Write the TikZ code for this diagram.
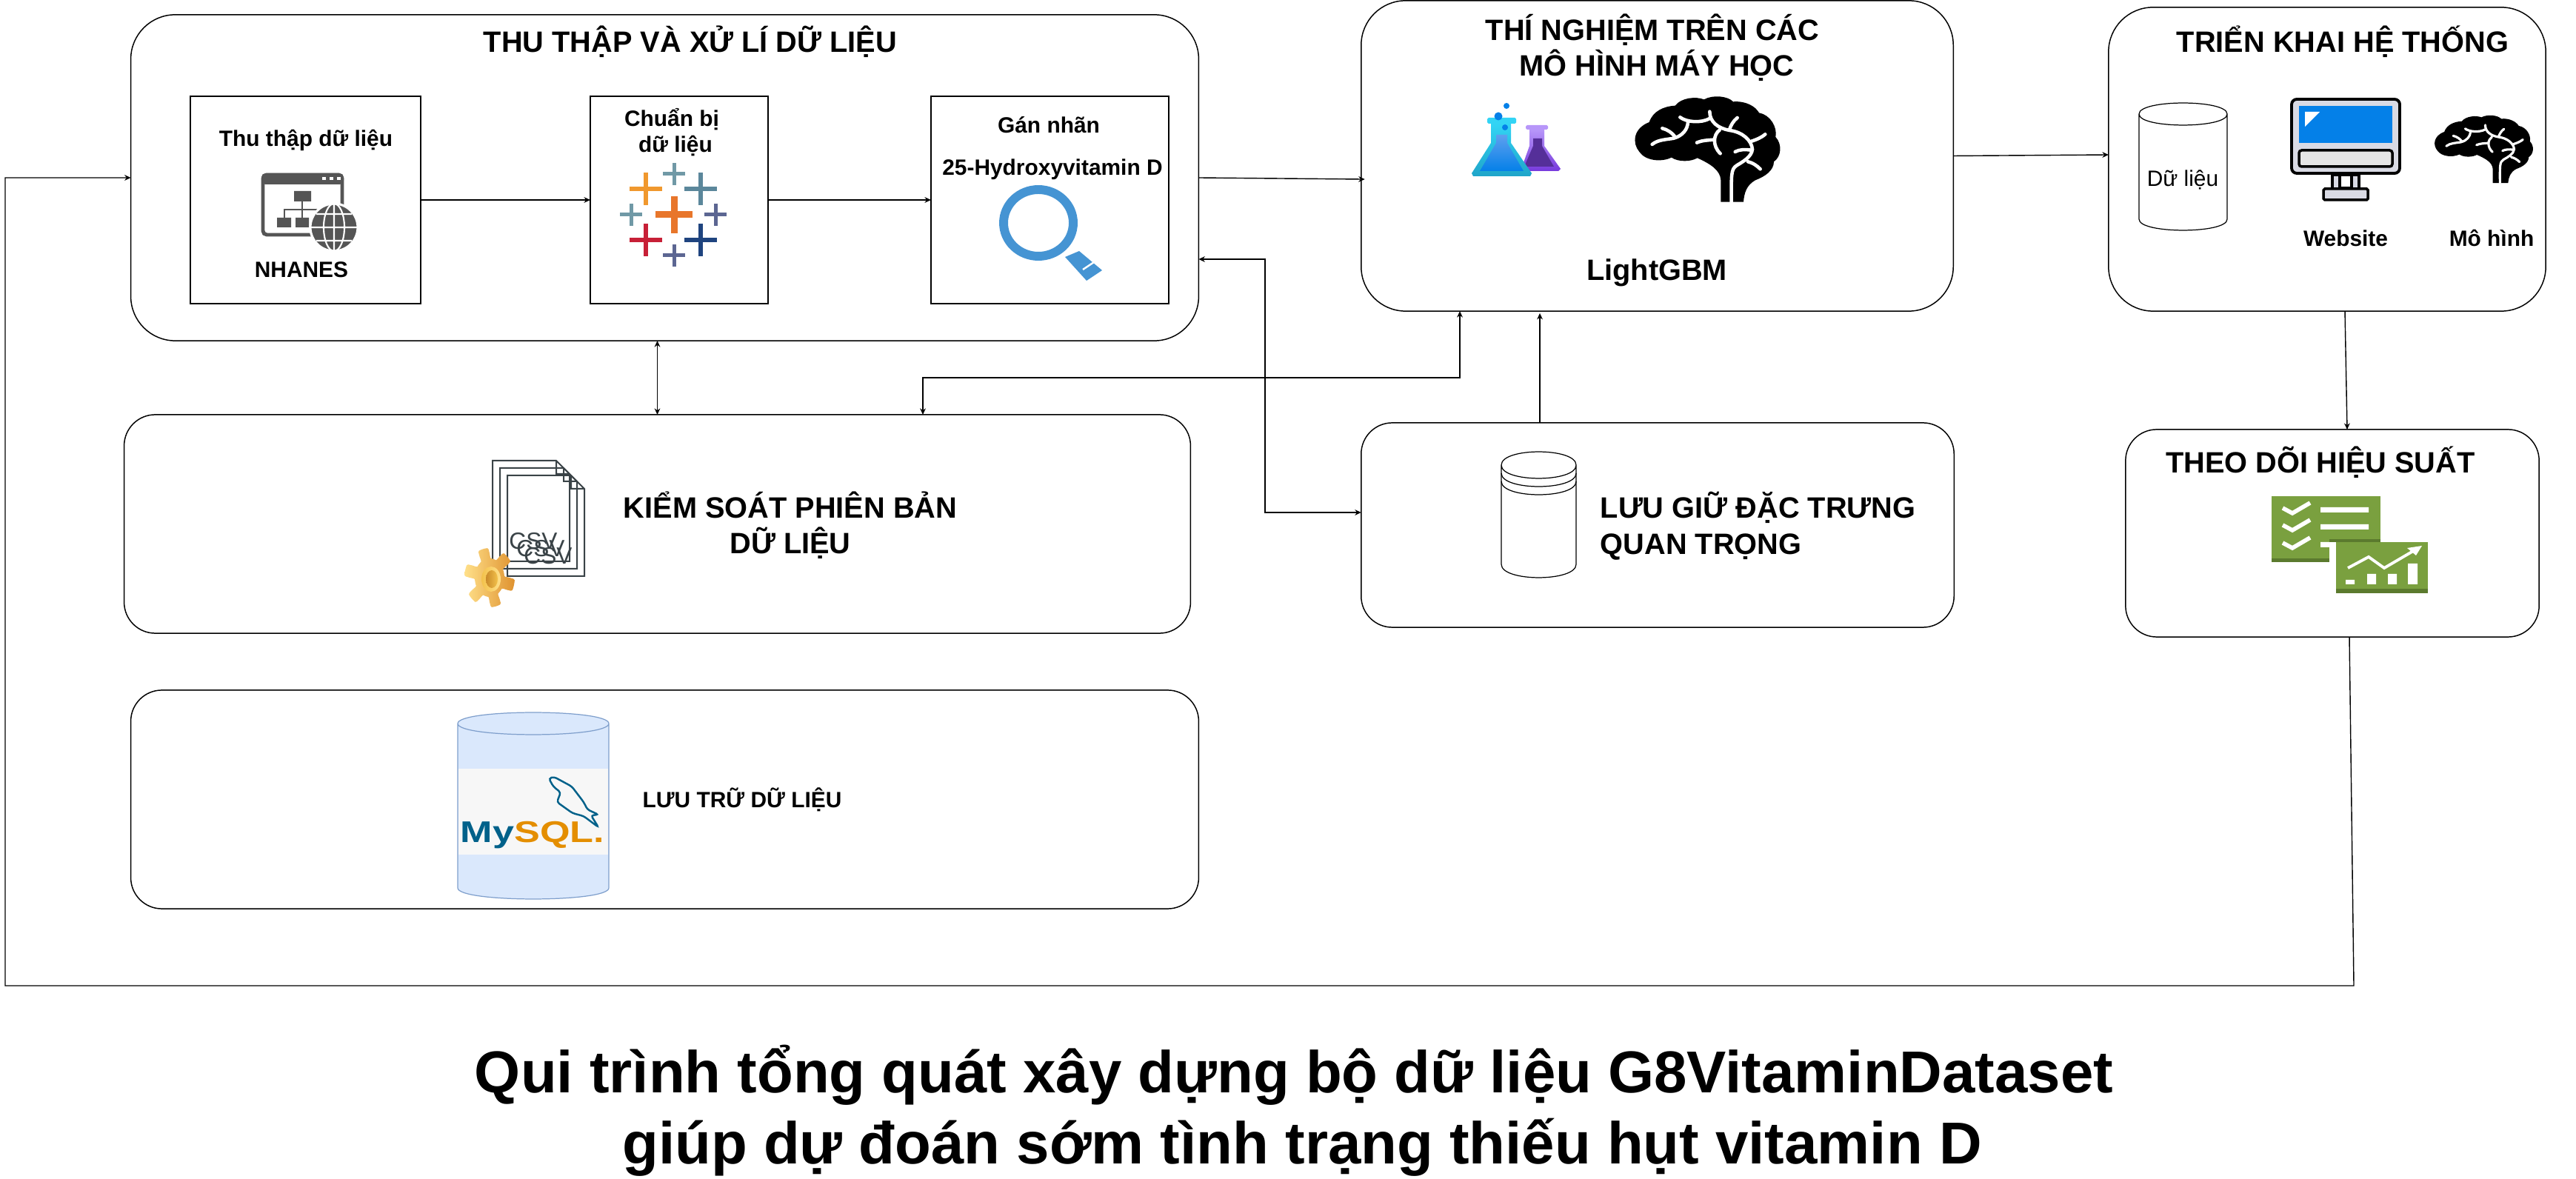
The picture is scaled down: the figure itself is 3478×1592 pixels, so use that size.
\documentclass[tikz,border=0pt]{standalone}
\usepackage{fontspec}
\setmainfont{Liberation Sans}
\usetikzlibrary{arrows.meta}
\definecolor{winGray}{HTML}{555555}
\definecolor{magBlue}{HTML}{4594D3}
\definecolor{docGray}{HTML}{3A4347}
\definecolor{drumBlue}{HTML}{DAE8FC}
\definecolor{drumEdge}{HTML}{7F9FCC}
\definecolor{mysqlBlue}{HTML}{00618A}
\definecolor{mysqlOrange}{HTML}{E48E00}
\definecolor{leafGreen}{HTML}{7AA03F}
\definecolor{leafDark}{HTML}{5B7A2E}
\definecolor{crossOrange}{HTML}{E8762B}
\definecolor{crossAmber}{HTML}{F0982E}
\definecolor{crossTeal}{HTML}{5B879B}
\definecolor{crossRed}{HTML}{C72037}
\definecolor{crossNavy}{HTML}{1F447F}
\definecolor{crossMist}{HTML}{7099A6}
\definecolor{crossSlate}{HTML}{5C6692}
\definecolor{screenBlue}{HTML}{0480E8}
\definecolor{bodyGray}{HTML}{D9DAE4}
\definecolor{flaskSky}{HTML}{32D4F5}
\definecolor{flaskSea}{HTML}{1FA5C9}
\definecolor{flaskGlow}{HTML}{5EA0EF}
\definecolor{flaskLilac}{HTML}{B796F9}
\definecolor{flaskViolet}{HTML}{773ADC}
\definecolor{flaskPlum}{HTML}{552F99}
\definecolor{gearLight}{HTML}{FFE08A}
\definecolor{gearGold}{HTML}{F3C14B}
\definecolor{gearDark}{HTML}{DF922F}
\definecolor{gearDeep}{HTML}{C98A2A}
\tikzstyle{arrow} = [line width=.4pt,-{Stealth[length=2.4pt,width=2.2pt]}]
\tikzstyle{duplex} = [line width=.4pt,{Stealth[length=2.4pt,width=2.2pt]}-{Stealth[length=2.4pt,width=2.2pt]}]
\tikzstyle{panel} = [draw,line width=.42pt,rounded corners=.6cm,inner sep=0,outer sep=0]
\tikzstyle{softpanel} = [panel,rounded corners=.42cm]
\tikzstyle{card} = [draw,line width=.42pt,inner sep=0,outer sep=0]
\tikzstyle{head} = [anchor=base,inner sep=0,font=\bfseries\fontsize{11.3}{13}\selectfont]
\tikzstyle{caption} = [anchor=base,inner sep=0,font=\bfseries\fontsize{8.5}{10}\selectfont]
\tikzstyle{banner} = [anchor=base,inner sep=0,font=\bfseries\fontsize{22.7}{26}\selectfont]
% x1, x2, top, bottom, half height of the lid
\newcommand{\drum}[6][]{
  \draw[line width=.35pt,#1] (#2,{#4+#6}) -- (#2,{#5-#6})
    .. controls (#2,{#5-#6+1.33*#6}) and (#3,{#5-#6+1.33*#6}) .. (#3,{#5-#6})
    -- (#3,{#4+#6})
    .. controls (#3,{#4+#6-1.33*#6}) and (#2,{#4+#6-1.33*#6}) .. (#2,{#4+#6})
    .. controls (#2,{#4+#6+1.33*#6}) and (#3,{#4+#6+1.33*#6}) .. (#3,{#4+#6});
}
\tikzset{
  brain/.pic={
    \fill (430,488) -- (430,400) .. controls (428,360) and (390,335) .. (335,310)
      .. controls (310,325) and (260,328) .. (230,308) .. controls (190,328) and (125,322) .. (100,285)
      .. controls (70,250) and (75,190) .. (140,165) .. controls (155,120) and (200,100) .. (245,98)
      .. controls (270,65) and (330,60) .. (362,73) .. controls (400,52) and (460,60) .. (480,82)
      .. controls (530,78) and (570,100) .. (585,127) .. controls (630,135) and (660,185) .. (652,225)
      .. controls (680,255) and (675,305) .. (645,325) .. controls (645,360) and (610,385) .. (570,400)
      .. controls (535,420) and (525,450) .. (522,488) -- cycle;
    \draw[white,line width=#1,line cap=round]
      (152,255) .. controls (175,235) and (215,235) .. (240,230) .. controls (275,220) and (295,195) .. (297,165)
      (193,190) .. controls (215,195) and (235,210) .. (245,225)
      (265,145) .. controls (290,165) and (350,170) .. (385,150)
      (385,122) .. controls (385,165) and (420,190) .. (465,198) .. controls (520,205) and (555,240) .. (558,275)
        .. controls (555,305) and (520,325) .. (495,340) .. controls (470,355) and (473,380) .. (473,488)
      (497,147) .. controls (480,160) and (470,180) .. (465,195)
      (425,197) .. controls (400,215) and (395,260) .. (428,292)
      (333,248) .. controls (355,238) and (380,238) .. (402,236)
      (610,214) .. controls (590,230) and (575,235) .. (555,242)
      (488,285) .. controls (505,275) and (530,275) .. (552,278)
      (540,325) .. controls (560,330) and (575,340) .. (590,355);
  }
}
\begin{document}
\begin{tikzpicture}[x=.01cm,y=-.01cm]
  \useasboundingbox (0,0) rectangle (3478,1592);
  % boxes
  \node[panel,minimum width=14.41cm,minimum height=4.40cm] (collect) at (897.5,240) {};
  \node[card,minimum width=3.11cm,minimum height=2.80cm] (gather) at (412.5,270) {};
  \node[card,minimum width=2.40cm,minimum height=2.80cm] (prep) at (917,270) {};
  \node[card,minimum width=3.21cm,minimum height=2.80cm] (tagger) at (1417.5,270) {};
  \node[panel,minimum width=7.99cm,minimum height=4.19cm] (exp) at (2237.5,210.5) {};
  \node[panel,minimum width=5.90cm,minimum height=4.10cm] (deploy) at (3142,215) {};
  \node[softpanel,minimum width=14.39cm,minimum height=2.95cm] (version) at (887.5,707.5) {};
  \node[softpanel,minimum width=8.00cm,minimum height=2.76cm] (feature) at (2238,709) {};
  \node[softpanel,minimum width=5.58cm,minimum height=2.80cm] (watch) at (3149,720) {};
  \node[softpanel,minimum width=14.41cm,minimum height=2.95cm] (store) at (897.5,1079.5) {};
  % titles
  \node[head] (collecttitle) at (932,71) {THU THẬP VÀ XỬ LÍ DỮ LIỆU};
  \node[head] (exptitlea) at (2231,55) {THÍ NGHIỆM TRÊN CÁC};
  \node[head] (exptitleb) at (2237,103) {MÔ HÌNH MÁY HỌC};
  \node[head] (lightgbm) at (2237,379) {LightGBM};
  \node[head] (deploytitle) at (3163,71) {TRIỂN KHAI HỆ THỐNG};
  \node[head] (versiona) at (1067,700) {KIỂM SOÁT PHIÊN BẢN};
  \node[head] (versionb) at (1067,748) {DỮ LIỆU};
  \node[head,anchor=base west] (featurea) at (2160,700) {LƯU GIỮ ĐẶC TRƯNG};
  \node[head,anchor=base west] (featureb) at (2160,749) {QUAN TRỌNG};
  \node[head] (watchtitle) at (3133,639) {THEO DÕI HIỆU SUẤT};
  \node[caption] (storetitle) at (1002,1091) {LƯU TRỮ DỮ LIỆU};
  \node[caption] (gathertitle) at (413,198) {Thu thập dữ liệu};
  \node[caption] (nhanes) at (407,375) {NHANES};
  \node[caption] (prepa) at (907,171) {Chuẩn bị};
  \node[caption] (prepb) at (912,206) {dữ liệu};
  \node[caption] (tagtitle) at (1416,180) {Gán nhãn};
  \node[caption] (vitamin) at (1421,237) {25-Hydroxyvitamin D};
  \node[caption] (website) at (3167,333) {Website};
  \node[caption] (model) at (3364,333) {Mô hình};
  \node[banner] (bannera) at (1747,1475) {Qui trình tổng quát xây dựng bộ dữ liệu G8VitaminDataset};
  \node[banner] (bannerb) at (1758,1571) {giúp dự đoán sớm tình trạng thiếu hụt vitamin D};
  % window and globe
  \draw[winGray,line width=1.4pt,rounded corners=1.5pt] (355,236) rectangle (462,317);
  \fill[winGray,rounded corners=1.5pt] (353,234) rectangle (464,249);
  \foreach \k in {435,445,455} \fill[white] (\k,239) rectangle ({\k+5},243);
  \fill[winGray] (397,258) rectangle (420,272) (374,294) rectangle (393,307) (399,294) rectangle (417,307);
  \draw[winGray,line width=.6pt] (408,272) -- (408,294) (384,294) -- (384,283) -- (430,283);
  \filldraw[fill=winGray,draw=white,line width=.9pt] (451,307) circle [radius=32];
  \draw[white,line width=.6pt] (451,275) -- (451,339) (419,307) -- (483,307) (427,289) -- (475,289) (427,325) -- (475,325)
    (451,307) ellipse [x radius=14,y radius=32];
  % tableau crosses
  \foreach \cx/\cy/\arm/\thk/\col in {910/290/25/9/crossOrange, 872/255/22/6/crossAmber, 946/255/22/6/crossTeal,
      872/324/22/6/crossRed, 946/324/22/6/crossNavy, 910/235/15/5/crossMist, 910/345/15/5/crossSlate,
      852/290/15/5/crossMist, 966/290/15/5/crossSlate}{
    \fill[fill=\col] ({\cx-\arm},{\cy-\thk/2}) rectangle ({\cx+\arm},{\cy+\thk/2});
    \fill[fill=\col] ({\cx-\thk/2},{\cy-\arm}) rectangle ({\cx+\thk/2},{\cy+\arm});
  }
  % magnifier
  \draw[magBlue,line width=3.4pt] (1402,301) ellipse [x radius=47,y radius=45];
  \fill[magBlue] (1438,347) -- (1457,339) -- (1488,365) -- (1467,379) -- cycle;
  \draw[white,line width=.7pt] (1462,364) -- (1480,352);
  % flasks
  \fill[flaskLilac,rounded corners=.5pt] (2060,169) rectangle (2090,175);
  \shade[top color=flaskLilac,bottom color=flaskViolet] (2065,175) -- (2085,175) -- (2085,197) -- (2107,228) -- (2104,231) -- (2057,231) -- (2054,228) -- (2065,197) -- cycle;
  \fill[flaskPlum] (2070,187) -- (2082,187) -- (2082,197) -- (2098,225) -- (2058,225) -- (2070,197) -- cycle;
  \fill[flaskSky,rounded corners=.5pt] (2008,159) rectangle (2047,167);
  \shade[top color=flaskSky,bottom color=flaskSea] (2013,167) -- (2040,167) -- (2040,193) -- (2068,234) -- (2066,238) -- (1989,238) -- (1987,234) -- (2013,193) -- cycle;
  \shade[top color=flaskGlow,bottom color=screenBlue] (2020,182) -- (2035,182) -- (2035,193) -- (2057,231) -- (1998,231) -- (2020,193) -- cycle;
  \fill[screenBlue] (2034,143) circle [radius=4] (2023,157) circle [radius=5.5] (2032,172) circle [radius=4];
  \pic[scale=.3333] at (2180,110) {brain=1.3pt};
  % deploy icons
  \drum{2888}{3007}{139}{311}{15}
  \node[anchor=base,inner sep=0,font=\fontsize{8.5}{10}\selectfont] (datalabel) at (2947,252) {Dữ liệu};
  \filldraw[fill=bodyGray,draw=black,line width=1.1pt,rounded corners=2pt] (3094,134) rectangle (3240,234);
  \fill[screenBlue] (3104,143) rectangle (3230,193);
  \fill[white] (3112,151) -- (3132,151) -- (3112,171) -- cycle;
  \filldraw[fill=black!10,draw=black,line width=1pt,rounded corners=1pt] (3104,203) rectangle (3230,225);
  \filldraw[fill=bodyGray,draw=black,line width=1pt] (3149,236) rectangle (3185,255);
  \draw[black,line width=1pt,fill=white] (3159,236) rectangle (3175,254);
  \filldraw[fill=bodyGray,draw=black,line width=1pt,rounded corners=.5pt] (3137,255) rectangle (3197,270);
  \pic[xscale=.2258,yscale=.2136] at (3268.5,142.8) {brain=.9pt};
  % version icons
  \foreach \k in {0,1,2}{
    \draw[docGray,line width=.57pt] ({665+10*\k},{622+10*\k}) -- ({751+10*\k},{622+10*\k}) -- ({769+10*\k},{640+10*\k}) -- ({769+10*\k},{758+10*\k}) -- ({665+10*\k},{758+10*\k}) -- cycle
      ({751+10*\k},{622+10*\k}) -- ({751+10*\k},{640+10*\k}) -- ({769+10*\k},{640+10*\k});
    \node[anchor=center,inner sep=0,text=docGray,font=\fontsize{9}{10}\selectfont] (csv\k) at ({720+10*\k},{731+10*\k}) {CSV};
  }
  \shade[left color=gearLight,right color=gearDark] plot[domain=10:370,samples=145] ({661+(27+7*max(-1,min(1,3*sin(6*\x))))*cos(\x)},{780+(33+7*max(-1,min(1,3*sin(6*\x))))*sin(\x)}) -- cycle;
  \shade[left color=gearGold,right color=gearLight] (663,782) ellipse [x radius=13,y radius=17];
  \shade[left color=gearDeep,right color=gearGold] (664,782) ellipse [x radius=8,y radius=12];
  % feature icon
  \drum{2027}{2128}{610}{780}{18}
  \draw[line width=.35pt] (2027,639) .. controls (2027,663) and (2128,663) .. (2128,639)
    (2027,650) .. controls (2027,674) and (2128,674) .. (2128,650);
  % watch icons
  \fill[leafGreen] (3067,670) rectangle (3214,759);
  \fill[leafDark] (3067,754) rectangle (3145,759);
  \foreach \k in {686,709,733}{
    \draw[white,line width=1.6pt] (3082,\k) -- (3095,{\k+7}) -- (3119,{\k-7});
  }
  \fill[white] (3133,685) rectangle (3198,692) (3133,708) rectangle (3198,715) (3133,732) rectangle (3145,739);
  \fill[white] (3145,728) rectangle (3154,759);
  \fill[leafDark] (3145,728) rectangle (3214,732);
  \fill[leafGreen] (3154,732) rectangle (3278,801);
  \fill[leafDark] (3154,795) rectangle (3278,801);
  \draw[white,line width=1.1pt] (3170,767) -- (3198,752) -- (3219,767) -- (3260,743);
  \fill[white] (3270,737) -- (3250,740) -- (3262,750) -- cycle;
  \fill[white] (3167,783) rectangle (3179,789) (3196,775) rectangle (3208,789) (3224,775) rectangle (3236,789) (3251,761) rectangle (3264,789);
  % mysql drum
  \drum[fill=drumBlue,draw=drumEdge]{618}{822}{962}{1214}{15}
  \fill[black!3] (619,1038) rectangle (821,1154);
  \node[anchor=base,inner sep=0,font=\bfseries\fontsize{11.5}{13}\selectfont] (mysql) at (719,1137) {\scalebox{1.29}[1]{\textcolor{mysqlBlue}{My}\textcolor{mysqlOrange}{SQL.}}};
  \filldraw[fill=black!3,draw=mysqlBlue,line width=.7pt,rounded corners=1pt] (741,1051) -- (748,1049) -- (772,1062) -- (788,1083) -- (793,1093) -- (808,1100) -- (798,1101) -- (808,1117) -- (788,1102) -- (773,1098) -- (752,1083) -- (757,1070) -- (747,1062) -- cycle;
  % connectors
  \coordinate (fbend) at (1708,520);
  \coordinate (bus) at (1600,510);
  \coordinate (loopa) at (3178,1331);
  \coordinate (loopb) at (7,1331);
  \draw[arrow] (gather.east) -- (prep.west);
  \draw[arrow] (prep.east) -- (tagger.west);
  \draw[arrow,shorten >=-1.4pt] (collect.east) -- (exp.west|-0,242);
  \draw[arrow] (exp.east) -- (deploy.west|-0,209);
  \draw[arrow] (3166,0|-deploy.south) -- (3169,0|-watch.north);
  \draw[arrow] (3172,0|-watch.south) -- (loopa) -- (loopb) |- (collect.west);
  \draw[arrow,shorten >=.8pt] (2079,0|-feature.north) -- (2079,0|-exp.south);
  \draw[duplex] (version.north) -- (version.north|-collect.south);
  \draw[duplex] (1971,0|-exp.south) |- (bus) -| (1246,0|-version.north);
  \draw[duplex] (collect.east|-0,350) -| (fbend) |- (feature.west|-0,692);
\end{tikzpicture}
\end{document}
